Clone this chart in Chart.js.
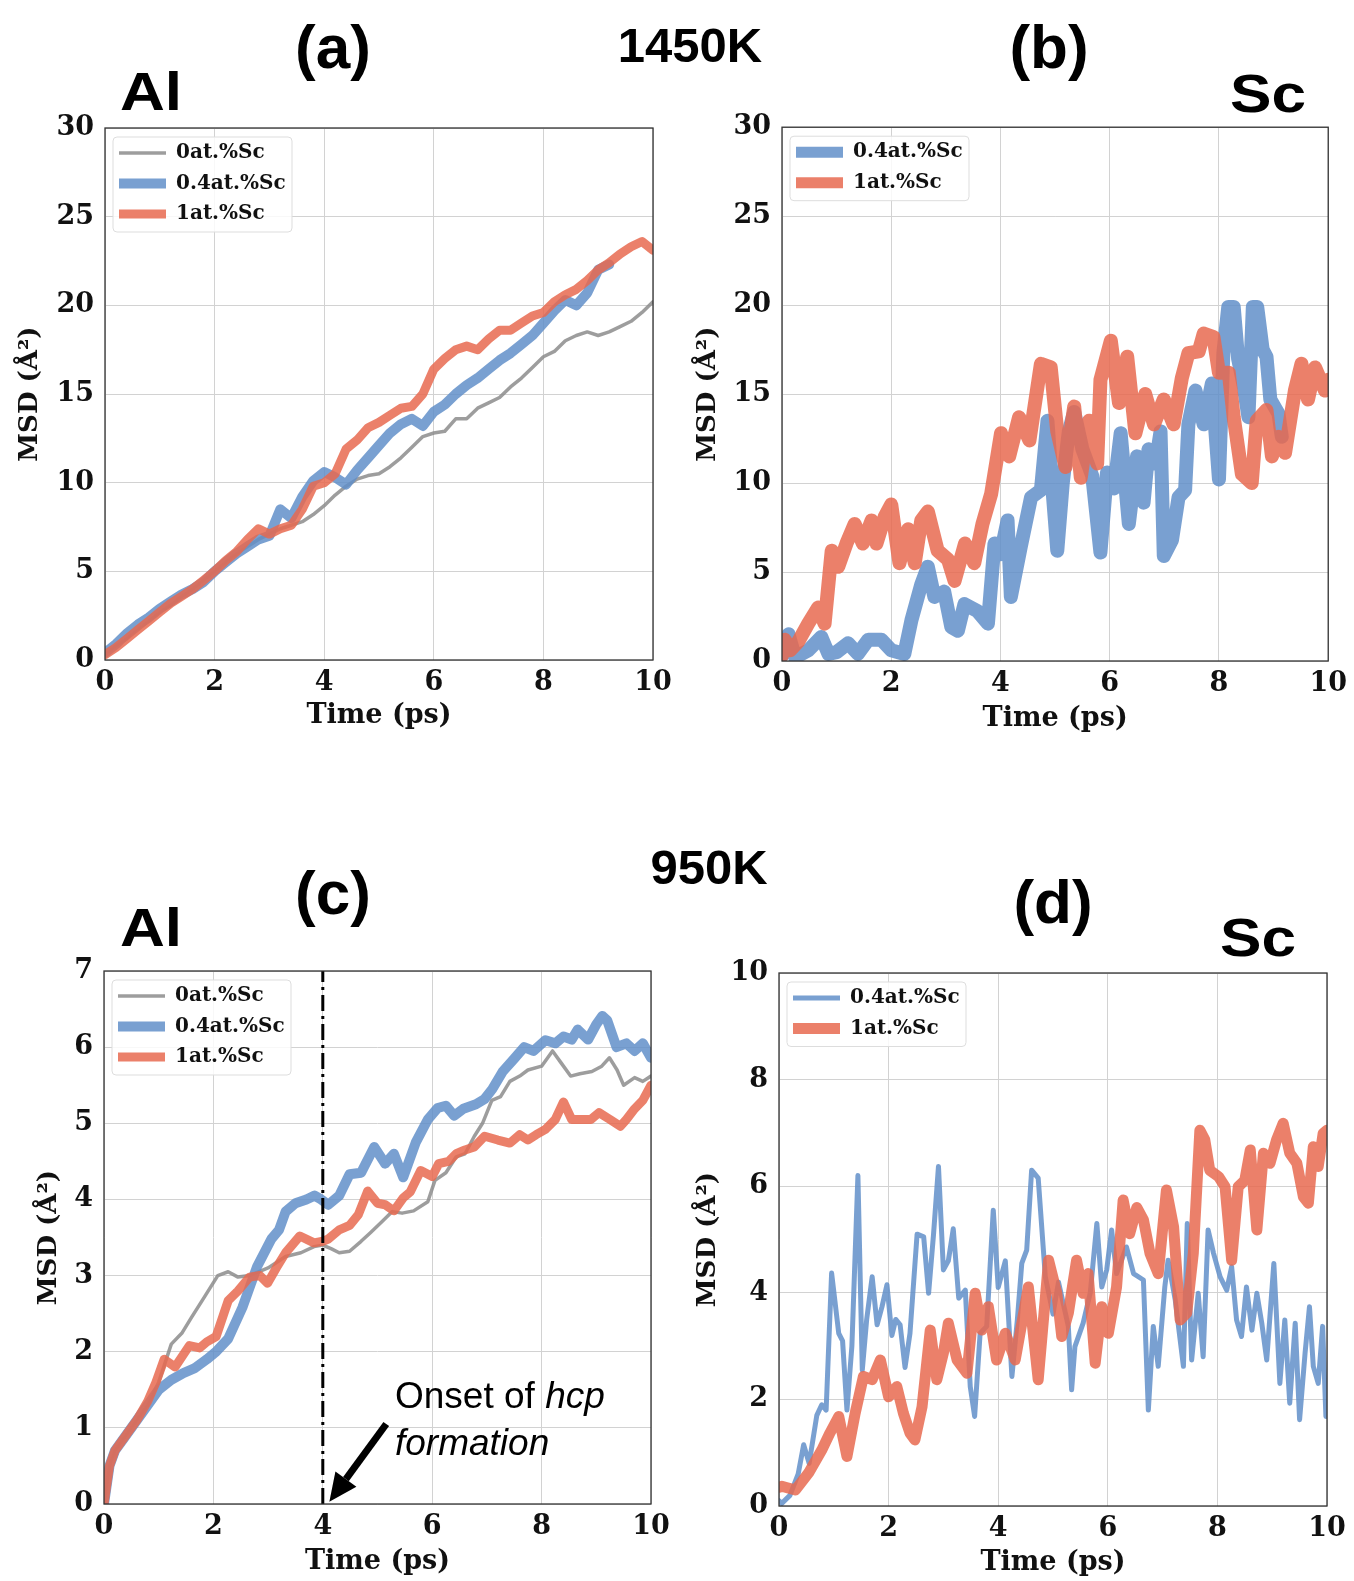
<!DOCTYPE html>
<html>
<head>
<meta charset="utf-8">
<script src="https://cdn.jsdelivr.net/npm/chart.js@4.4.1/dist/chart.umd.min.js"></script>
<style>
body{margin:0;background:#fff;width:1354px;height:1581px;position:relative;overflow:hidden;font-family:"Liberation Sans",Arial,sans-serif;}
canvas{position:absolute;}
.lbl{position:absolute;font-weight:bold;line-height:1;transform:translate(-50%,-50%);white-space:nowrap;color:#000;}
.wide{transform:translate(-50%,-50%) scaleX(1.15);}
</style>
</head>
<body>
<div class="lbl" style="left:333px;top:47px;font-size:62px">(a)</div>
<div class="lbl" style="left:690px;top:45px;font-size:49px">1450K</div>
<div class="lbl" style="left:1049px;top:47px;font-size:62px">(b)</div>
<div class="lbl wide" style="left:151px;top:91px;font-size:54px">Al</div>
<div class="lbl wide" style="left:1268px;top:93px;font-size:54px">Sc</div>
<div class="lbl" style="left:709px;top:867px;font-size:49px">950K</div>
<div class="lbl" style="left:333px;top:893px;font-size:62px">(c)</div>
<div class="lbl wide" style="left:151px;top:927px;font-size:54px">Al</div>
<div class="lbl" style="left:1053px;top:902px;font-size:62px">(d)</div>
<div class="lbl wide" style="left:1258px;top:937px;font-size:54px">Sc</div>

<canvas id="chartA"></canvas>
<canvas id="chartB"></canvas>
<canvas id="chartC"></canvas>
<canvas id="chartD"></canvas>

<script>
// series names
const seriesLabels = ['0at.%Sc', '0.4at.%Sc', '1at.%Sc'];
const xTitle = 'Time (ps)';
const yTitle = 'MSD (Å²)';
const onsetTime = 4;

// (a) 1450K, Al
const aTime = [0,0.2,0.4,0.6,0.8,1.0,1.2,1.4,1.6,1.8,2.0,2.2,2.4,2.6,2.8,3.0,3.2,3.4,3.6,3.8,4.0,4.2,4.4,4.6,4.8,5.0,
  5.2,5.4,5.6,5.8,6.0,6.2,6.4,6.6,6.8,7.0,7.2,7.4,7.6,7.8,8.0,8.2,8.4,8.6,8.8,9.0,9.2,9.4,9.6,9.8,10.0];
const aGray = [0.3,0.8,1.2,1.7,2.2,2.7,3.1,3.6,4.0,4.5,5.0,5.5,6.0,6.4,6.8,7.1,7.4,7.6,7.8,8.2,8.7,9.3,9.8,10.2,10.4,10.5,
  10.9,11.4,12.0,12.6,12.8,12.9,13.6,13.6,14.2,14.5,14.8,15.4,15.9,16.5,17.1,17.4,18.0,18.3,18.5,18.3,18.5,18.8,19.1,19.6,20.2];
const aBlue = [0.4,0.9,1.5,2.0,2.4,2.9,3.3,3.7,4.0,4.4,5.0,5.5,6.0,6.4,6.8,7.0,8.5,8.0,9.2,10.1,10.6,10.3,9.9,10.7,11.4,12.1,
  12.8,13.3,13.6,13.2,14.0,14.4,15.0,15.5,15.9,16.4,16.9,17.3,17.8,18.3,19.0,19.7,20.3,20.0,20.7,22.0,22.3];
const aRed = [0.3,0.7,1.2,1.7,2.2,2.7,3.2,3.6,4.0,4.5,5.0,5.6,6.1,6.8,7.4,7.1,7.4,7.6,8.5,9.8,10.0,10.5,11.9,12.4,13.1,13.4,
  13.8,14.2,14.3,15.0,16.4,17.0,17.5,17.7,17.5,18.1,18.6,18.6,19.0,19.4,19.6,20.2,20.6,20.9,21.4,22.0,22.4,22.9,23.3,23.6,23.1];

// (b) 1450K, Sc  [time, msd]
const bBlue = [[0,0.3],[0.12,1.5],[0.24,0.2],[0.48,0.6],[0.72,1.35],[0.85,0.4],[1.0,0.5],[1.21,1.0],[1.39,0.4],[1.58,1.2],
  [1.82,1.2],[2.0,0.6],[2.24,0.4],[2.37,2.3],[2.55,4.3],[2.67,5.3],[2.79,3.6],[2.97,3.9],[3.1,1.9],[3.22,1.7],[3.34,3.2],
  [3.58,2.8],[3.77,2.1],[3.89,6.6],[4.0,6.0],[4.13,7.9],[4.19,3.6],[4.37,6.4],[4.56,9.2],[4.74,9.6],[4.86,13.5],[4.93,10.5],
  [5.04,6.2],[5.14,10.0],[5.25,12.9],[5.35,14.0],[5.5,11.9],[5.68,10.4],[5.83,6.1],[5.95,10.6],[6.08,9.7],[6.2,12.8],
  [6.35,7.7],[6.5,11.5],[6.62,8.9],[6.71,11.9],[6.84,11.1],[6.93,12.9],[6.99,5.9],[7.14,6.8],[7.26,9.2],[7.38,9.6],
  [7.44,13.3],[7.57,15.2],[7.72,13.3],[7.87,15.6],[8.0,10.2],[8.08,17.3],[8.17,19.9],[8.27,19.9],[8.35,17.0],[8.45,15.5],
  [8.54,13.7],[8.62,19.9],[8.7,19.9],[8.8,17.5],[8.87,17.1],[8.94,14.7],[9.09,13.9],[9.15,12.6]];
const bRed = [[0,0.3],[0.05,1.2],[0.15,0.6],[0.3,1.1],[0.48,2.1],[0.66,3.0],[0.78,2.1],[0.91,6.2],[1.03,5.3],[1.18,6.6],
  [1.33,7.7],[1.48,6.6],[1.64,7.9],[1.73,6.6],[1.88,8.1],[2.0,8.8],[2.15,5.5],[2.31,7.4],[2.43,5.5],[2.55,7.9],[2.67,8.4],
  [2.85,6.2],[3.04,5.7],[3.16,4.5],[3.35,6.6],[3.52,5.5],[3.67,7.7],[3.83,9.4],[4.01,12.8],[4.16,11.5],[4.34,13.7],
  [4.53,12.4],[4.74,16.7],[4.92,16.5],[5.04,12.9],[5.19,10.9],[5.35,14.3],[5.47,10.3],[5.62,13.5],[5.77,11.1],[5.83,15.8],
  [6.02,18.0],[6.17,14.5],[6.32,17.1],[6.47,12.8],[6.65,15.0],[6.81,13.3],[6.99,14.7],[7.17,13.3],[7.32,15.9],[7.44,17.3],
  [7.63,17.4],[7.72,18.4],[7.9,18.2],[8.0,16.2],[8.18,16.2],[8.27,13.7],[8.42,10.5],[8.6,10.0],[8.69,13.5],[8.87,14.1],
  [8.97,11.5],[9.09,12.6],[9.21,11.7],[9.39,15.2],[9.51,16.7],[9.63,14.7],[9.76,16.5],[9.94,15.2],[10,15.8]];

// (c) 950K, Al
const cGray = [[0,0],[0.1,0.5],[0.2,0.7],[0.4,0.9],[0.6,1.1],[0.8,1.3],[1.0,1.6],[1.23,2.1],[1.43,2.25],[1.6,2.45],[1.82,2.7],
  [2.08,3.0],[2.27,3.05],[2.45,2.98],[2.66,3.0],[3.0,3.1],[3.32,3.25],[3.6,3.3],[3.84,3.38],[4.0,3.4],[4.16,3.35],[4.3,3.3],
  [4.49,3.32],[4.7,3.45],[4.88,3.57],[5.07,3.7],[5.27,3.84],[5.45,3.82],[5.66,3.85],[5.92,3.97],[6.05,4.25],[6.25,4.35],
  [6.44,4.56],[6.6,4.6],[6.77,4.83],[6.92,5.0],[7.09,5.3],[7.25,5.35],[7.42,5.55],[7.6,5.62],[7.75,5.7],[8.0,5.75],
  [8.2,5.95],[8.35,5.8],[8.53,5.62],[8.7,5.65],[8.92,5.68],[9.1,5.75],[9.24,5.86],[9.38,5.7],[9.5,5.5],[9.7,5.6],
  [9.85,5.55],[10,5.62]];
const cBlue = [[0,0],[0.1,0.5],[0.2,0.7],[0.4,0.9],[0.6,1.1],[0.8,1.3],[1.0,1.5],[1.23,1.63],[1.45,1.72],[1.65,1.78],
  [1.88,1.9],[2.05,2.0],[2.27,2.17],[2.53,2.58],[2.8,3.12],[3.06,3.48],[3.2,3.6],[3.32,3.84],[3.5,3.95],[3.7,4.0],
  [3.85,4.05],[3.97,4.0],[4.1,3.93],[4.3,4.05],[4.49,4.33],[4.7,4.35],[4.94,4.69],[5.14,4.47],[5.3,4.6],[5.47,4.29],
  [5.7,4.75],[5.92,5.05],[6.1,5.2],[6.25,5.23],[6.4,5.1],[6.57,5.19],[6.8,5.25],[6.96,5.32],[7.1,5.45],[7.29,5.68],
  [7.5,5.85],[7.68,6.0],[7.85,5.95],[8.07,6.09],[8.25,6.05],[8.4,6.14],[8.55,6.1],[8.66,6.23],[8.85,6.1],[9.0,6.3],
  [9.11,6.41],[9.2,6.35],[9.37,6.0],[9.55,6.05],[9.7,5.95],[9.85,6.05],[10,5.86]];
const cRed = [[0,0],[0.1,0.5],[0.2,0.7],[0.4,0.9],[0.6,1.1],[0.8,1.35],[0.95,1.6],[1.1,1.9],[1.3,1.8],[1.56,2.08],
  [1.75,2.05],[1.88,2.13],[2.05,2.2],[2.27,2.67],[2.45,2.8],[2.66,2.98],[2.85,3.0],[2.99,2.9],[3.15,3.1],[3.32,3.3],
  [3.58,3.52],[3.84,3.43],[4.0,3.45],[4.1,3.48],[4.3,3.6],[4.49,3.66],[4.65,3.8],[4.82,4.11],[5.0,3.95],[5.14,3.93],
  [5.3,3.85],[5.47,4.02],[5.6,4.1],[5.79,4.38],[6.0,4.3],[6.12,4.47],[6.3,4.5],[6.44,4.6],[6.6,4.65],[6.77,4.69],
  [6.96,4.83],[7.2,4.78],[7.42,4.74],[7.6,4.85],[7.75,4.78],[7.9,4.85],[8.07,4.92],[8.25,5.05],[8.4,5.28],[8.55,5.05],
  [8.72,5.05],[8.9,5.05],[9.05,5.14],[9.25,5.05],[9.44,4.96],[9.55,5.05],[9.7,5.19],[9.85,5.3],[10,5.5]];

// (d) 950K, Sc
const dBlue = [[0,0.1],[0.05,0.05],[0.2,0.2],[0.35,0.6],[0.45,1.15],[0.55,0.8],[0.69,1.7],[0.78,1.9],[0.86,1.8],[0.96,4.37],
  [1.09,3.24],[1.16,3.1],[1.24,1.8],[1.33,3.0],[1.44,6.2],[1.52,2.55],[1.6,3.5],[1.7,4.3],[1.79,3.4],[1.88,3.74],[1.97,4.15],
  [2.06,3.2],[2.13,3.5],[2.21,3.4],[2.3,2.6],[2.39,3.24],[2.52,5.1],[2.64,5.05],[2.73,3.99],[2.82,5.1],[2.91,6.37],[3.0,4.43],
  [3.09,4.6],[3.18,5.2],[3.28,3.9],[3.4,4.05],[3.49,2.24],[3.57,1.68],[3.67,3.24],[3.79,3.37],[3.91,5.55],[4.0,4.1],
  [4.13,4.6],[4.25,2.43],[4.35,3.5],[4.43,4.55],[4.52,4.8],[4.61,6.3],[4.73,6.15],[4.86,4.3],[5.0,3.6],[5.1,4.2],[5.28,3.37],
  [5.34,2.18],[5.4,2.99],[5.55,3.43],[5.68,4.0],[5.8,5.3],[5.89,4.11],[5.98,4.43],[6.07,5.18],[6.16,4.36],[6.34,4.86],
  [6.47,4.36],[6.65,4.24],[6.74,1.8],[6.83,3.37],[6.92,2.62],[7.04,4.11],[7.1,4.61],[7.23,3.87],[7.38,2.62],[7.45,5.3],
  [7.53,2.74],[7.65,3.99],[7.74,2.8],[7.83,5.18],[7.93,4.74],[8.05,4.3],[8.17,4.05],[8.26,4.49],[8.35,3.49],[8.44,3.18],
  [8.53,4.11],[8.63,3.3],[8.72,3.99],[8.81,3.43],[8.9,2.74],[9.03,4.55],[9.14,2.3],[9.23,3.49],[9.32,1.93],[9.42,3.43],
  [9.5,1.62],[9.6,2.87],[9.68,3.74],[9.75,2.62],[9.84,2.3],[9.92,3.37],[9.98,1.68]];
const dRed = [[0,0.35],[0.05,0.37],[0.3,0.3],[0.54,0.62],[0.78,1.05],[0.93,1.37],[1.09,1.68],[1.24,0.93],[1.39,1.74],
  [1.54,2.43],[1.7,2.37],[1.85,2.74],[2.0,2.05],[2.15,2.24],[2.27,1.74],[2.39,1.37],[2.48,1.24],[2.61,1.86],[2.76,3.3],
  [2.88,2.37],[3.0,2.87],[3.09,3.43],[3.25,2.74],[3.43,2.49],[3.58,3.99],[3.7,3.3],[3.82,3.74],[3.97,2.74],[4.13,3.24],
  [4.31,2.74],[4.55,4.11],[4.73,2.37],[4.92,4.61],[5.07,3.99],[5.16,3.18],[5.28,3.62],[5.43,4.61],[5.55,3.99],[5.64,4.36],
  [5.77,2.68],[5.89,3.74],[6.01,3.24],[6.16,4.11],[6.28,5.74],[6.4,5.11],[6.53,5.6],[6.65,5.37],[6.77,4.74],[6.92,4.36],
  [7.07,5.93],[7.2,5.24],[7.32,3.49],[7.44,3.62],[7.56,4.74],[7.68,7.05],[7.77,6.87],[7.86,6.3],[8.02,6.18],[8.14,5.99],
  [8.26,4.61],[8.38,5.99],[8.5,6.11],[8.6,6.68],[8.72,5.18],[8.84,6.62],[8.96,6.43],[9.08,6.87],[9.2,7.18],[9.32,6.62],
  [9.45,6.43],[9.57,5.8],[9.66,5.68],[9.75,6.74],[9.84,6.37],[9.93,6.99],[10,7.05]];

const GRAY = 'rgba(140,140,140,0.85)';
const BLUE = 'rgba(98,143,201,0.85)';
const RED = 'rgba(232,106,80,0.85)';

Chart.defaults.font.family = '"DejaVu Serif", serif';
Chart.defaults.color = '#111';

const pairs = arr => arr.map(p => ({x: p[0], y: p[1]}));
const zipT = (t, v) => v.map((y, i) => ({x: t[i], y: y}));

function line(label, data, color, width, order) {
  return {label, data, borderColor: color, borderWidth: width, order,
    pointRadius: 0, tension: 0, borderJoinStyle: 'round', borderCapStyle: 'round', clip: 0};
}

// frame + legend drawn inside the plot box
const insetLegend = {
  id: 'insetLegend',
  afterDatasetsDraw(chart) {
    const {ctx, chartArea: ca} = chart;
    ctx.save();
    ctx.strokeStyle = '#333';
    ctx.lineWidth = 1.3;
    ctx.strokeRect(ca.left, ca.top, ca.right - ca.left, ca.bottom - ca.top);

    const items = chart.data.datasets.filter(d => !d.noLegend);
    const x0 = ca.left + 8, y0 = ca.top + 9;
    const w = 179, h = 34 + (items.length - 1) * 30.5;
    ctx.fillStyle = 'rgba(255,255,255,0.85)';
    ctx.strokeStyle = '#dddddd';
    ctx.lineWidth = 1;
    ctx.beginPath();
    ctx.roundRect(x0, y0, w, h, 4);
    ctx.fill();
    ctx.stroke();
    ctx.font = 'bold 20px "DejaVu Serif"';
    ctx.textBaseline = 'middle';
    items.forEach((d, i) => {
      const y = y0 + 16 + i * 30.5;
      ctx.strokeStyle = d.borderColor;
      ctx.lineWidth = Math.min(d.borderWidth, 11);
      ctx.lineCap = 'butt';
      ctx.beginPath();
      ctx.moveTo(x0 + 6, y);
      ctx.lineTo(x0 + 53, y);
      ctx.stroke();
      ctx.fillStyle = '#111';
      ctx.fillText(d.label, x0 + 63, y);
    });
    ctx.restore();
  }
};

// "Onset of hcp formation" note for (c)
const onsetNote = {
  id: 'onsetNote',
  afterDatasetsDraw(chart) {
    const {ctx, scales: {x, y}} = chart;
    ctx.save();
    ctx.fillStyle = '#000';
    ctx.textBaseline = 'middle';
    const tx = x.getPixelForValue(5.32);
    ctx.font = '37px "Liberation Sans"';
    ctx.fillText('Onset of ', tx, y.getPixelForValue(1.39));
    const w = ctx.measureText('Onset of ').width;
    ctx.font = 'italic 37px "Liberation Sans"';
    ctx.fillText('hcp', tx + w, y.getPixelForValue(1.39));
    ctx.fillText('formation', tx, y.getPixelForValue(0.78));

    const x1 = x.getPixelForValue(5.16), y1 = y.getPixelForValue(1.05);
    const x2 = x.getPixelForValue(onsetTime + 0.12), y2 = y.getPixelForValue(0.03);
    const ang = Math.atan2(y2 - y1, x2 - x1);
    const hl = 28, hw = 13;
    const bx = x2 - hl * Math.cos(ang), by = y2 - hl * Math.sin(ang);
    ctx.strokeStyle = '#000';
    ctx.lineWidth = 7;
    ctx.beginPath();
    ctx.moveTo(x1, y1);
    ctx.lineTo(bx, by);
    ctx.stroke();
    ctx.beginPath();
    ctx.moveTo(x2, y2);
    ctx.lineTo(bx + hw * Math.sin(ang), by - hw * Math.cos(ang));
    ctx.lineTo(bx - hw * Math.sin(ang), by + hw * Math.cos(ang));
    ctx.closePath();
    ctx.fill();
    ctx.restore();
  }
};

function makePanel(id, box, area, yMax, yStep, yTitlePad, xTitlePad, datasets, extra) {
  const cv = document.getElementById(id);
  cv.width = box.w; cv.height = box.h;
  cv.style.left = box.left + 'px';
  cv.style.top = box.top + 'px';
  const tickFont = {family: '"DejaVu Serif"', size: 27, weight: 'bold'};
  const grid = {color: '#d2d2d2', lineWidth: 1, drawTicks: false};
  return new Chart(cv, {
    type: 'line',
    data: {datasets},
    options: {
      responsive: false,
      animation: false,
      events: [],
      layout: {padding: {left: 0, top: area.t, right: box.w - area.r, bottom: 0}},
      plugins: {legend: {display: false}, tooltip: {enabled: false}},
      scales: {
        x: {
          type: 'linear', min: 0, max: 10,
          ticks: {stepSize: 2, font: tickFont, color: '#111', padding: 7, maxRotation: 0},
          grid, border: {display: false},
          title: {display: true, text: xTitle, font: tickFont, color: '#111', padding: {top: 0, bottom: xTitlePad}},
          afterFit: s => { s.height = box.h - area.b; }
        },
        y: {
          type: 'linear', min: 0, max: yMax,
          ticks: {stepSize: yStep, font: tickFont, color: '#111', padding: 11},
          grid, border: {display: false},
          title: {display: true, text: yTitle, font: {family: '"DejaVu Serif"', size: 26, weight: 'bold'}, color: '#111', padding: {top: yTitlePad, bottom: 0}},
          afterFit: s => { s.width = area.l; }
        }
      }
    },
    plugins: [insetLegend].concat(extra || [])
  });
}

makePanel('chartA', {left: 0, top: 100, w: 680, h: 650}, {l: 105, t: 28, r: 653, b: 560}, 30, 5, 15, 18, [
  line(seriesLabels[0], zipT(aTime, aGray), GRAY, 3.5, 3),
  line(seriesLabels[1], zipT(aTime, aBlue), BLUE, 10, 2),
  line(seriesLabels[2], zipT(aTime, aRed), RED, 9, 1)
]);

makePanel('chartB', {left: 677, top: 100, w: 677, h: 650}, {l: 105, t: 27, r: 653, b: 561}, 30, 5, 16, 15, [
  line(seriesLabels[1], pairs(bBlue), BLUE, 14, 2),
  line(seriesLabels[2], pairs(bRed), RED, 14, 1)
]);

const onsetLine = Object.assign(line('onset', [{x: onsetTime, y: 0}, {x: onsetTime, y: 7}], '#000', 3, 0),
  {noLegend: true, borderDash: [16, 5, 3, 5], borderCapStyle: 'butt'});

makePanel('chartC', {left: 0, top: 940, w: 680, h: 641}, {l: 104, t: 31, r: 651, b: 564}, 7, 1, 34, 3, [
  line(seriesLabels[0], pairs(cGray), GRAY, 3.5, 3),
  line(seriesLabels[1], pairs(cBlue), BLUE, 10, 2),
  line(seriesLabels[2], pairs(cRed), RED, 9, 1),
  onsetLine
], [onsetNote]);

makePanel('chartD', {left: 677, top: 940, w: 677, h: 641}, {l: 102, t: 33, r: 650, b: 566}, 10, 2, 16, 2, [
  line(seriesLabels[1], pairs(dBlue), BLUE, 5, 2),
  line(seriesLabels[2], pairs(dRed), RED, 11, 1)
]);
</script>
</body>
</html>
